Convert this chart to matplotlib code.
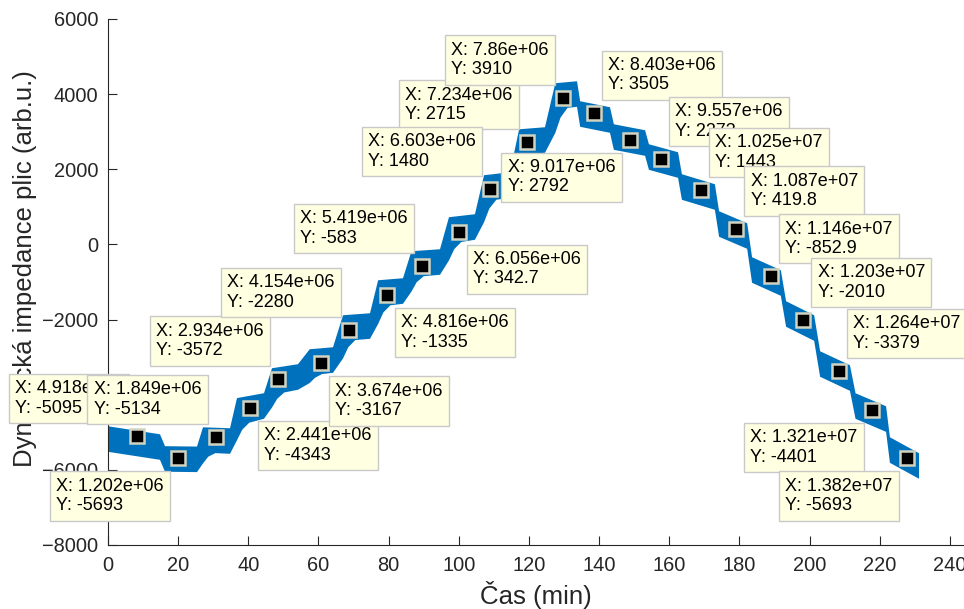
import matplotlib
matplotlib.use("Agg")
import matplotlib.pyplot as plt
import numpy as np

plt.rcParams['font.family'] = ['Liberation Sans', 'DejaVu Sans']

# ---- signal trace envelope: time [min], value ----
upper_t = [0, 14.82, 16.25, 25.37, 27.08, 34.78, 36.77, 44.47, 46.75, 54.16,
           57.5, 64.14, 67.0, 74.69, 77.0, 84.09, 86.5, 94.64, 97.2, 104.6,
           107.2, 114.6, 117.2, 124.57, 127.5, 133.7, 134.6, 143.1, 144.2, 153.1,
           154.2, 162.5, 163.6, 173.0, 174.2, 182.2, 183.6, 191.8, 193.3, 201.3,
           203.0, 211.5, 213.1, 221.8, 222.9, 231.2]
upper_v = [-4840, -5053, -5370, -5380, -4867, -4893, -4090, -3960, -3295, -3188,
           -2790, -2737, -1885, -1832, -954, -900, -181, -128, 724, 804,
           1842, 1921, 3065, 3119, 4290, 4343, 3811, 3651, 3198, 3039,
           2666, 2453, 1868, 1602, 883, 564, -341, -687, -1512, -1885,
           -2843, -3216, -3962, -4308, -5133, -5558]
lower_t = [0, 14.82, 16.25, 25.37, 27.08, 28.58, 30.58, 34.78, 36.77, 38.27,
           40.27, 44.47, 46.75, 48.25, 50.25, 54.16, 57.5, 59.0, 61.0, 64.14,
           67.0, 68.5, 70.5, 74.69, 77.0, 78.5, 80.5, 84.09, 86.5, 88.0,
           90.0, 94.64, 97.2, 98.7, 100.7, 104.6, 107.2, 108.7, 110.7, 114.6,
           117.2, 118.7, 120.7, 124.57, 127.5, 129.0, 131.0, 133.7, 134.6, 143.1,
           144.2, 153.1, 154.2, 162.5, 163.6, 173.0, 174.2, 182.2, 183.6, 191.8,
           193.3, 201.3, 203.0, 211.5, 213.1, 221.8, 222.9, 231.2]
lower_v = [-5520, -5733, -6050, -6060, -5829, -5650, -5555, -5573, -5212, -4931,
           -4745, -4640, -4341, -4108, -3940, -3868, -3689, -3550, -3450, -3417,
           -3034, -2735, -2545, -2512, -2117, -1810, -1620, -1580, -1256, -1005,
           -845, -808, -425, -126, 65, 124, 591, 954, 1190, 1241,
           1756, 2156, 2405, 2439, 2966, 3376, 3635, 3663, 3131, 2971,
           2518, 2359, 1986, 1773, 1188, 922, 203, -116, -1021, -1367,
           -2192, -2565, -3523, -3896, -4642, -4988, -5813, -6238]

# ---- data tips: sample index, value, shown strings, box side ----
tip_x = [4.918e5, 1.202e6, 1.849e6, 2.441e6, 2.934e6, 3.674e6, 4.154e6, 4.816e6,
         5.419e6, 6.056e6, 6.603e6, 7.234e6, 7.86e6, 8.403e6, 9.017e6, 9.557e6,
         1.025e7, 1.087e7, 1.146e7, 1.203e7, 1.264e7, 1.321e7, 1.382e7]
tip_y = [-5095, -5693, -5134, -4343, -3572, -3167, -2280, -1335,
         -583, 342.7, 1480, 2715, 3910, 3505, 2792, 2273,
         1443, 419.8, -852.9, -2010, -3379, -4401, -5693]
tip_xtxt = ['4.918e+05', '1.202e+06', '1.849e+06', '2.441e+06', '2.934e+06', '3.674e+06',
            '4.154e+06', '4.816e+06', '5.419e+06', '6.056e+06', '6.603e+06', '7.234e+06',
            '7.86e+06', '8.403e+06', '9.017e+06', '9.557e+06', '1.025e+07', '1.087e+07',
            '1.146e+07', '1.203e+07', '1.264e+07', '1.321e+07', '1.382e+07']
tip_ytxt = ['-5095', '-5693', '-5134', '-4343', '-3572', '-3167', '-2280', '-1335',
            '-583', '342.7', '1480', '2715', '3910', '3505', '2792', '2273',
            '1443', '419.8', '-852.9', '-2010', '-3379', '-4401', '-5693']
tip_side = ['ul', 'll', 'ul', 'lr', 'ul', 'lr', 'ul', 'lr',
            'ul', 'lr', 'ul', 'ul', 'ul', 'ur', 'll', 'ur',
            'ur', 'ur', 'ur', 'ur', 'ur', 'll', 'll']

samples_per_min = 60760.0
time_offset_min = 0.26

xticks = list(range(0, 241, 20))
yticks = list(range(-8000, 6001, 2000))

# ---------------------------------------------------------------------------
W, H = 964, 609
fig = plt.figure(figsize=(W / 100, H / 100), dpi=100)
ax = fig.add_axes([108 / W, (H - 545) / H, (W - 108) / W, 526 / H])

poly_t = list(upper_t) + list(lower_t)[::-1]
poly_v = list(upper_v) + list(lower_v)[::-1]
ax.fill(poly_t, poly_v, color='#0072BD', lw=0, zorder=2)

tmin = np.array(tip_x) / samples_per_min + time_offset_min
ax.plot(tmin, tip_y, linestyle='none', marker='s', ms=9.5, mfc='black',
        mec='#d2d2c0', mew=1.8, zorder=5)

fs_tip = 13
pad_px = 0.35 * fs_tip * 100 / 72
gx, gy = 8, 13
for i, (t, y, sx, sy, side) in enumerate(zip(tmin, tip_y, tip_xtxt, tip_ytxt, tip_side)):
    dx = gx + pad_px
    dy = gy + pad_px
    if side == 'ul':
        off, ha, va = (-dx, dy), 'right', 'bottom'
    elif side == 'ur':
        off, ha, va = (dx, dy), 'left', 'bottom'
    elif side == 'll':
        off, ha, va = (-dx, -dy), 'right', 'top'
    else:
        off, ha, va = (dx, -dy), 'left', 'top'
    z = 10 + i
    if i == 10:
        z = 10 + 12.5
    ax.annotate(f"X: {sx}\nY: {sy}", xy=(t, y), xytext=off, textcoords='offset pixels',
                ha=ha, va=va, multialignment='left', fontsize=fs_tip, color='black',
                zorder=z, annotation_clip=False,
                bbox=dict(boxstyle='square,pad=0.35', fc='#ffffe1', ec='#c9c9c9', lw=1.0))

ax.set_xlim(0, (W - 108) / 3.508)
ax.set_ylim(-8000, 6000)
ax.set_xticks(xticks)
ax.set_yticks(yticks)
for s in ['top', 'right']:
    ax.spines[s].set_visible(False)
for s in ['left', 'bottom']:
    ax.spines[s].set_color('#262626')
    ax.spines[s].set_linewidth(0.8)
ax.tick_params(direction='in', length=6.5, width=0.8, colors='#262626', labelsize=14.4)
ax.tick_params(axis='x', pad=8)
ax.tick_params(axis='y', pad=7)
ax.set_xlabel('Čas (min)', fontsize=18.5, color='#262626', labelpad=4)
ax.set_ylabel('Dynamická impedance plic (arb.u.)', fontsize=18.5, color='#262626')
ax.yaxis.set_label_coords(-0.083, 0.525)

fig.savefig('out.png', dpi=100)
